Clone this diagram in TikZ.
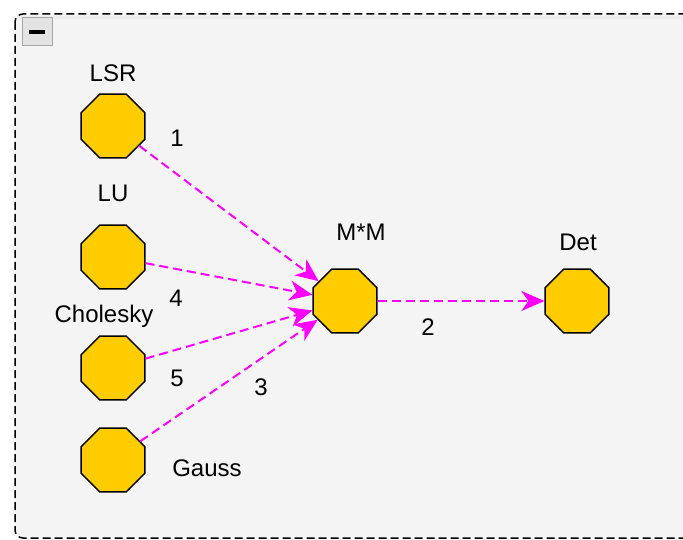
\documentclass[tikz,border=0pt]{standalone}
\usepackage{fontspec}
\setmainfont{Liberation Sans}
\usetikzlibrary{arrows.meta, shapes.geometric}

\definecolor{octFill}{HTML}{FFCC00}
\definecolor{flowCol}{HTML}{FF00FF}
\definecolor{paneBg}{HTML}{F4F4F4}

\begin{document}
\begin{tikzpicture}[x=1pt, y=-1pt]
		\tikzstyle{Octa} = [regular polygon, regular polygon sides=8, minimum size=69pt, inner sep=0pt, draw=black, line width=1.5pt, fill=octFill]
		\tikzstyle{Caption} = [inner sep=0pt, font=\fontsize{24}{28}\selectfont]
		\tikzstyle{flow} = [draw=flowCol, line width=2pt, dash pattern=on 9pt off 5pt, -{Stealth[length=23pt, width=20pt, inset=7pt, fill=flowCol]}]
		
		\useasboundingbox (0,0) rectangle (683,540);
		
		% pane with its header and collapse button
		\draw[dash pattern=on 8pt off 4pt, line width=1.5pt, rounded corners=8pt, fill=paneBg] (15,14) rectangle (700,538);
		\fill[gray!14] (17,16) rectangle (683,19);
		\draw[gray!70, line width=1pt, fill=gray!22] (22,18) rectangle (52,46);
		\draw[line width=3.5pt] (29,32) -- (45,32);
		
		\node (lsr) [Octa] at (113,126) {};
		\node (lu) [Octa] at (113,257) {};
		\node (chol) [Octa] at (113,368) {};
		\node (gauss) [Octa] at (113,460) {};
		\node (mm) [Octa] at (345,301) {};
		\node (det) [Octa] at (577,301) {};
		
		\node (lsrT) [Caption] at (113,73) {LSR};
		\node (luT) [Caption] at (113,193) {LU};
		\node (cholT) [Caption] at (104,316) {Cholesky};
		\node (gaussT) [Caption] at (207,468) {Gauss};
		\node (mmT) [Caption] at (361,232) {M*M};
		\node (detT) [Caption] at (578,242) {Det};
		
		\draw[flow] (lsr) -- (mm);
		\draw[flow] (lu) -- (mm);
		\draw[flow] (chol) -- (mm);
		\draw[flow] (gauss) -- (mm);
		\draw[flow] (mm) -- (det);
		
		\node (w1) [Caption] at (177,138) {1};
		\node (w4) [Caption] at (176,298) {4};
		\node (w5) [Caption] at (177,378) {5};
		\node (w3) [Caption] at (261,387) {3};
		\node (w2) [Caption] at (428,327) {2};
\end{tikzpicture}
\end{document}
